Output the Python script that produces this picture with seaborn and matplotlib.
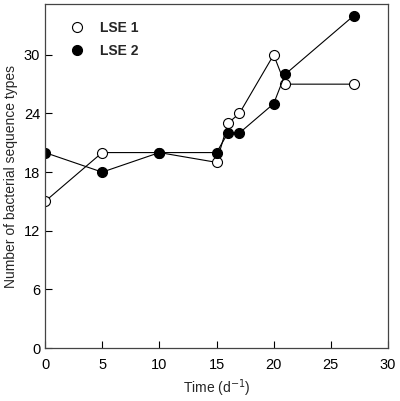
import matplotlib
matplotlib.use('Agg')
import matplotlib.pyplot as plt
import seaborn as sns
import pandas as pd

days = [0, 5, 10, 15, 16, 17, 20, 21, 27]
lse1 = [15, 20, 20, 19, 23, 24, 30, 27, 27]
lse2 = [20, 18, 20, 20, 22, 22, 25, 28, 34]

x_ticks = [0, 5, 10, 15, 20, 25, 30]
y_ticks = [0, 6, 12, 18, 24, 30]

sns.set_style('ticks')
plt.rcParams['font.family'] = ['Liberation Sans', 'DejaVu Sans']

df = pd.DataFrame({'day': days, 'LSE 1': lse1, 'LSE 2': lse2})

fig = plt.figure(figsize=(4, 4.01), dpi=100)
ax = fig.add_axes([0.1125, 0.132, 0.8575, 0.858])

sns.lineplot(data=df, x='day', y='LSE 1', ax=ax, color='black', lw=0.8,
             marker='o', markersize=7.2, markerfacecolor='white',
             markeredgecolor='black', markeredgewidth=0.8, label='LSE 1')
sns.lineplot(data=df, x='day', y='LSE 2', ax=ax, color='black', lw=0.8,
             marker='o', markersize=7.2, markerfacecolor='black',
             markeredgecolor='black', markeredgewidth=0.8, label='LSE 2')

ax.set_xlim(0, 30)
ax.set_ylim(0, 35.2)
ax.set_xticks(x_ticks)
ax.set_yticks(y_ticks)
ax.tick_params(direction='in', length=5, width=0.8, labelsize=10.5, colors='black')
ax.tick_params(axis='x', pad=7)
for s in ax.spines.values():
    s.set_linewidth(0.9)
    s.set_color('#444444')

ax.set_xlabel('Time (d$^{-1}$)', fontsize=10, labelpad=4)
ax.set_ylabel('Number of bacterial sequence types', fontsize=10, labelpad=4)

leg = ax.legend(loc='upper left', bbox_to_anchor=(0.076, 0.966), frameon=False,
                handlelength=0, handletextpad=1.7, borderaxespad=0,
                labelspacing=0.6, prop={'weight': 'bold', 'size': 10})

fig.savefig('out.png', dpi=100)
